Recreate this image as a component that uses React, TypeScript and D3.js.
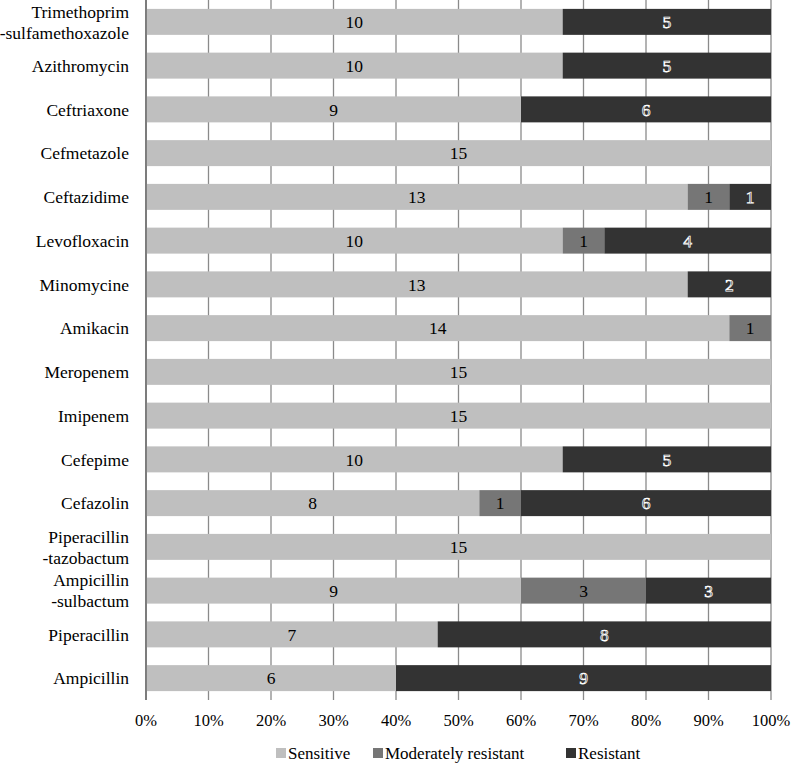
import React from "react";
import * as d3 from "d3";

const categories = [
  "Trimethoprim\n-sulfamethoxazole",
  "Azithromycin",
  "Ceftriaxone",
  "Cefmetazole",
  "Ceftazidime",
  "Levofloxacin",
  "Minomycine",
  "Amikacin",
  "Meropenem",
  "Imipenem",
  "Cefepime",
  "Cefazolin",
  "Piperacillin\n-tazobactum",
  "Ampicillin\n-sulbactum",
  "Piperacillin",
  "Ampicillin",
];
const sensitive = [10, 10, 9, 15, 13, 10, 13, 14, 15, 15, 10, 8, 15, 9, 7, 6];
const moderate = [0, 0, 0, 0, 1, 1, 0, 1, 0, 0, 0, 1, 0, 3, 0, 0];
const resistant = [5, 5, 6, 0, 1, 4, 2, 0, 0, 0, 5, 6, 0, 3, 8, 9];
const seriesNames = ["Sensitive", "Moderately resistant", "Resistant"];
const seriesColors = ["#bfbfbf", "#767676", "#333333"];
const ticks = [0, 0.1, 0.2, 0.3, 0.4, 0.5, 0.6, 0.7, 0.8, 0.9, 1.0];

const W = 791, H = 763;
const left = 146, right = 771, top = 0, bottom = 700;
const font = "'Liberation Serif', 'Times New Roman', serif";

export default function App() {
  const x = d3.scaleLinear().domain([0, 1]).range([left, right]);
  const y = d3.scaleBand().domain(categories).range([top, bottom]).paddingInner(0.406).paddingOuter(0.203);
  const rows = categories.map((c, i) => ({ c, vals: [sensitive[i], moderate[i], resistant[i]] }));
  const legendItems = [
    { sx: 276, tx: 288 },
    { sx: 373, tx: 385 },
    { sx: 566, tx: 578 },
  ];
  return (
    <svg width={W} height={H} style={{ position: "absolute", left: 0, top: 0, background: "#fff" }}>
      <rect width={W} height={H} fill="#fff" />
      {ticks.map((t, i) => (
        <line key={i} x1={x(t)} x2={x(t)} y1={top} y2={bottom} stroke="#8a8a8a" strokeWidth={1.3} />
      ))}
      {rows.map((r, i) => {
        const total = d3.sum(r.vals);
        let acc = 0;
        const yy = y(r.c)!;
        const bh = y.bandwidth();
        return (
          <g key={i}>
            {r.vals.map((v, k) => {
              const x0 = x(acc / total);
              acc += v;
              const x1 = x(acc / total);
              if (v === 0) return null;
              const cx = (x0 + x1) / 2;
              return (
                <g key={k}>
                  <rect x={x0} y={yy} width={x1 - x0} height={bh} fill={seriesColors[k]} />
                  <text
                    x={cx}
                    y={yy + bh / 2}
                    dy="0.35em"
                    textAnchor="middle"
                    fontFamily={font}
                    fontSize={17.5}
                    fill={k === 2 ? "#333333" : "#000"}
                    stroke={k === 2 ? "#ffffff" : "none"}
                    strokeWidth={k === 2 ? 0.75 : 0}
                  >
                    {v}
                  </text>
                </g>
              );
            })}
          </g>
        );
      })}
      <line x1={left} x2={left} y1={top} y2={bottom} stroke="#6a6a6a" strokeWidth={1.5} />
      {categories.map((c, i) => {
        const lines = c.split("\n");
        const cy = y(c)! + y.bandwidth() / 2;
        return (
          <text key={i} x={129} textAnchor="end" fontFamily={font} fontSize={17.5} fill="#000">
            {lines.map((l, j) => (
              <tspan key={j} x={129} y={cy + (j - (lines.length - 1) / 2) * 21} dy="0.35em">
                {l}
              </tspan>
            ))}
          </text>
        );
      })}
      {ticks.map((t, i) => (
        <text key={i} x={x(t)} y={720} dy="0.35em" textAnchor="middle" fontFamily={font} fontSize={16.5} fill="#000">
          {d3.format(".0%")(t)}
        </text>
      ))}
      {seriesNames.map((n, k) => (
        <g key={k}>
          <rect x={legendItems[k].sx} y={748} width={10} height={10} fill={seriesColors[k]} />
          <text x={legendItems[k].tx} y={753} dy="0.35em" fontFamily={font} fontSize={17} fill="#000">
            {n}
          </text>
        </g>
      ))}
    </svg>
  );
}
